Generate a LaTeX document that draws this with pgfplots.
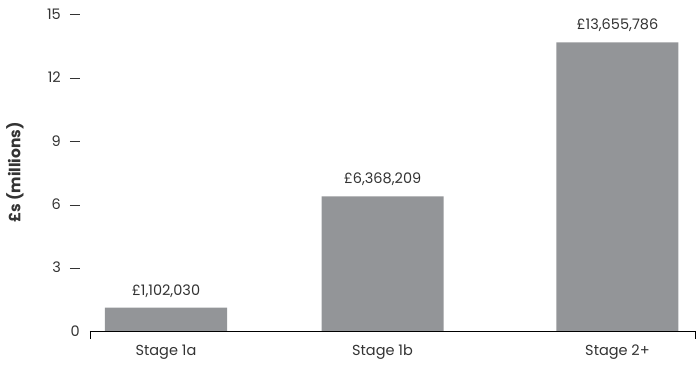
\documentclass[border=0pt]{standalone}
\usepackage{pgfplots}
\pgfplotsset{compat=1.18}
\usepackage{fontspec}
\setmainfont{Poppins}
\definecolor{bargray}{HTML}{939598}
\definecolor{txt}{HTML}{333333}
\newcommand\dtick{\hspace{9pt}\rule[0.28em]{10pt}{0.9pt}}
\begin{document}
\begin{tikzpicture}[font=\fontsize{14.5}{17}\selectfont, text=txt]
\path[use as bounding box] (-90pt,-35pt) rectangle (606pt,331pt);
\begin{axis}[
  at={(0,0)}, anchor=south west,
  scale only axis, width=605pt, height=317pt,
  xmin=-0.351, xmax=2.443, ymin=0, ymax=15,
  axis x line*=bottom, axis y line*=left,
  y axis line style={draw=none},
  x axis line style={draw=black, line width=0.8pt},
  major tick length=0pt,
  xtick={0,1,2.085},
  xticklabels={Stage 1a,Stage 1b,Stage 2+},
  xticklabel style={yshift=-10pt},
  ytick={0,3,6,9,12,15},
  yticklabels={0\hspace{19pt},3\dtick,6\dtick,9\dtick,12\dtick,15\dtick},
  yticklabel style={anchor=east, inner xsep=0pt, xshift=-10pt},
  ylabel={\fontsize{15.5}{18}\selectfont\textbf{£s (millions)}},
  ylabel style={at={(axis description cs:-0.124,0.5)}, anchor=center},
  ybar, bar width=0.5635, bar shift=0pt,
  nodes near coords, point meta=explicit symbolic,
  every node near coord/.append style={yshift=7pt, text=txt},
  clip=false,
]
\addplot[fill=bargray, draw=none] coordinates {
  (0,1.102030) [£1,102,030]
  (1,6.368209) [£6,368,209]
  (2.085,13.655786) [£13,655,786]
};
\draw[black, line width=0.8pt] (rel axis cs:0,0) -- ([yshift=-8pt]rel axis cs:0,0);
\draw[black, line width=0.8pt] (rel axis cs:1,0) -- ([yshift=-8pt]rel axis cs:1,0);
\end{axis}
\end{tikzpicture}
\end{document}
